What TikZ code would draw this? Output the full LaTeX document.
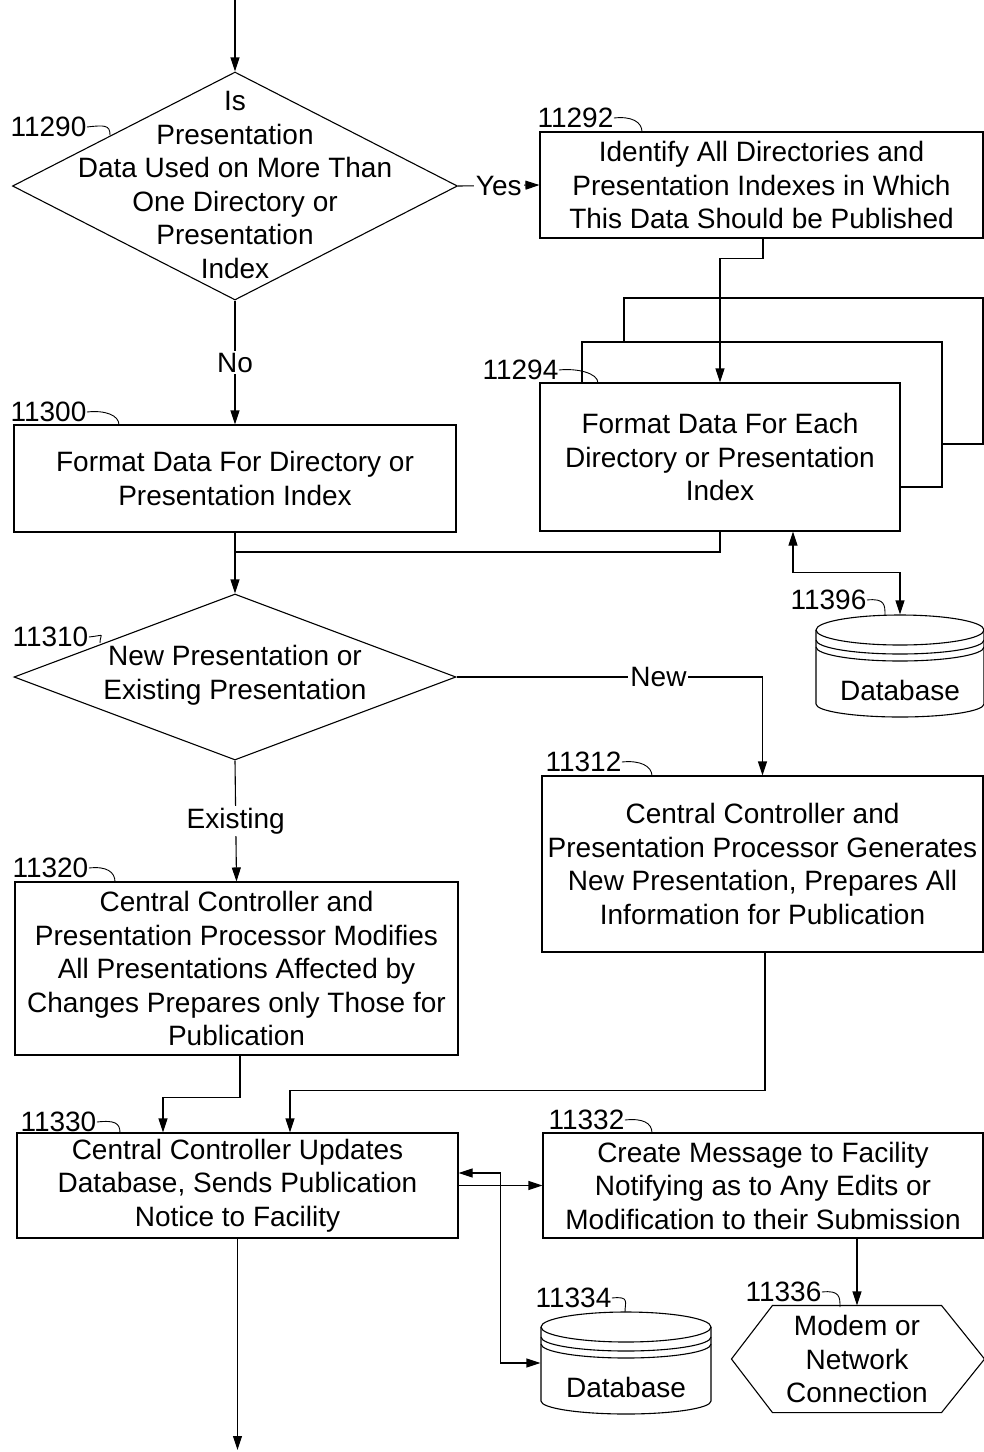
\documentclass[tikz,border=0pt]{standalone}
\usepackage{fontspec}
\setmainfont{Liberation Sans}
\usetikzlibrary{arrows.meta,shapes.geometric}
\newcommand{\dbcyl}[4]{%
  \draw (#1-#4,#2+15) -- (#1-#4,#3-13) arc[start angle=180,end angle=0,x radius=#4,y radius=13] -- (#1+#4,#2+15);
  \draw (#1,#2+15) ellipse[x radius=#4, y radius=15];
  \draw (#1-#4,#2+25) arc[start angle=180,end angle=0,x radius=#4,y radius=14];
  \draw (#1-#4,#2+32) arc[start angle=180,end angle=0,x radius=#4,y radius=14];
}
\newcommand{\leader}[2]{\draw[leadline] (#1) .. controls +(18,-2) and +(0,-10) .. (#2);}
\begin{document}
\begin{tikzpicture}[x=1pt,y=-1pt,
  line width=1.1pt,
  >={Triangle[length=14pt,width=9pt]},
  every node/.style={font=\fontsize{28}{33.5}\selectfont, inner sep=0pt},
  box/.style={draw, align=center},
  txt/.style={align=center},
  onl/.style={fill=white, inner sep=2pt},
  num/.style={anchor=west},
  leadline/.style={line width=0.9pt},
]
\useasboundingbox (0,0) rectangle (984,1452);
\coordinate (start) at (235,0);

% decision 11290
\node[diamond, draw, minimum width=445, minimum height=228] (d1) at (235,186) {};
\node[txt] (d1t) at (235,185) {Is\\Presentation\\Data Used on More Than\\One Directory or\\Presentation\\Index};

% 11292
\node[box, minimum width=443, minimum height=106] (b11292) at (761.5,185) {Identify All Directories and\\Presentation Indexes in Which\\This Data Should be Published};

% stacked 11294
\node[draw, fill=white, minimum width=359, minimum height=146] (b11294c) at (803.5,371) {};
\node[draw, fill=white, minimum width=360, minimum height=145] (b11294b) at (762,414.5) {};
\node[box, fill=white, minimum width=360, minimum height=148] (b11294) at (720,457) {Format Data For Each\\Directory or Presentation\\Index};

% 11300
\node[box, minimum width=442, minimum height=107] (b11300) at (235,478.5) {Format Data For Directory or\\Presentation Index};

% database 11396
\node[minimum width=168, minimum height=102] (db1) at (900,666) {};
\dbcyl{900}{615}{717}{84}
\node (db1t) at (900,690) {Database};

% decision 11310
\node[diamond, draw, minimum width=442, minimum height=166] (d2) at (235,677) {};
\node[txt] (d2t) at (235,675) {New Presentation or\\Existing Presentation};

% 11312
\node[box, minimum width=441, minimum height=176] (b11312) at (762.5,864) {Central Controller and\\Presentation Processor Generates\\New Presentation, Prepares All\\Information for Publication};

% 11320
\node[box, minimum width=443, minimum height=173] (b11320) at (236.5,968.5) {Central Controller and\\Presentation Processor Modifies\\All Presentations Affected by\\Changes Prepares only Those for\\Publication};

% 11330
\node[box, minimum width=441, minimum height=105] (b11330) at (237.5,1185.5) {Central Controller Updates\\Database, Sends Publication\\Notice to Facility};

% 11332
\node[box, minimum width=440, minimum height=105] (b11332) at (763,1185.5) {Create Message to Facility\\Notifying as to Any Edits or\\Modification to their Submission};

% database 11334
\node[minimum width=170, minimum height=102] (db2) at (626,1363) {};
\dbcyl{626}{1312}{1414}{85}
\node (db2t) at (626,1387) {Database};

% hexagon 11336
\node[txt, minimum width=168, minimum height=106] (h11336) at (857,1359) {Modem or\\Network\\Connection};
\draw (h11336.north west) -- (h11336.north east) -- ([xshift=43]h11336.east) -- (h11336.south east) -- (h11336.south west) -- ([xshift=-41]h11336.west) -- cycle;

% reference numbers
\node[num] (l11290) at (10,127) {11290};
\node[num] (l11292) at (537,118) {11292};
\node[num] (l11294) at (482,370) {11294};
\node[num] (l11300) at (10,412) {11300};
\node[num] (l11310) at (12,637) {11310};
\node[num] (l11312) at (545,762) {11312};
\node[num] (l11320) at (12,868) {11320};
\node[num] (l11330) at (20,1122) {11330};
\node[num] (l11332) at (548,1120) {11332};
\node[num] (l11334) at (535,1298) {11334};
\node[num] (l11336) at (745,1292) {11336};
\node[num] (l11396) at (790,600) {11396};
\leader{l11290.east}{110,135}
\leader{l11292.east}{642,132}
\leader{l11294.east}{598,383}
\leader{l11300.east}{119,425}
\leader{l11310.east}{100,643}
\leader{l11312.east}{652,776}
\leader{l11320.east}{115,882}
\leader{l11330.east}{120,1133}
\leader{l11332.east}{652,1133}
\leader{l11334.east}{625,1312}
\leader{l11336.east}{840,1307}
\leader{l11396.east}{885,615}

% connectors
\coordinate (j1) at (235,552);
\draw[->] (start) -- (d1.north);
\draw[->] (d1.east) -- node[onl]{Yes} (b11292.west);
\draw[->] (d1.south) -- node[onl]{No} (b11300.north);
\draw[->] ([xshift=1.5]b11292.south) -- ++(0,20) -| (b11294.north);
\draw (b11294.south) |- (j1);
\draw[->] (b11300.south) -- (d2.north);
\draw[<->] ([xshift=73]b11294.south) -- ++(0,41) -| (db1.north);
\draw[->] (d2.east) -| node[pos=0.33, onl]{New} (b11312.north);
\draw[->] (d2.south) -- node[onl]{Existing} (b11320.north);
\draw[->] ([xshift=3.5]b11320.south) -- ++(0,42) -| ([xshift=-74.5]b11330.north);
\draw[->] ([xshift=2.5]b11312.south) -- ++(0,138) -| ([xshift=52.5]b11330.north);
\draw[->] (b11330.east) -- (b11332.west);
\draw[<->] ([yshift=12.5]b11330.east) -- ++(42,0) |- (db2.west);
\draw[->] (h11336.north |- b11332.south) -- (h11336.north);
\coordinate (finish) at (237.5,1450);
\draw[->] (b11330.south) -- (finish);
\end{tikzpicture}
\end{document}
